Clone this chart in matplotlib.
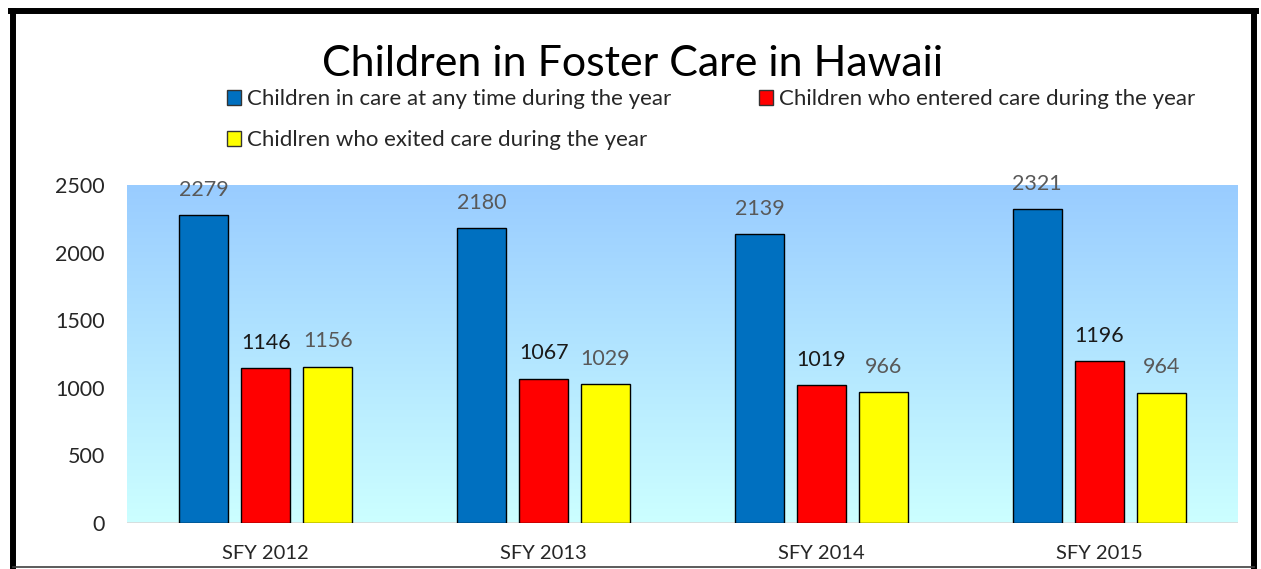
import matplotlib
matplotlib.use("Agg")
import matplotlib.pyplot as plt
import numpy as np
from matplotlib.patches import Patch
from matplotlib.lines import Line2D
from matplotlib.colors import LinearSegmentedColormap

categories = ["SFY 2012", "SFY 2013", "SFY 2014", "SFY 2015"]
in_care = [2279, 2180, 2139, 2321]
entered = [1146, 1067, 1019, 1196]
exited = [1156, 1029, 966, 964]
series_names = ["Children in care at any time during the year",
                "Children who entered care during the year",
                "Chidlren who exited care during the year"]
title = "Children in Foster Care in Hawaii"
yticks = [0, 500, 1000, 1500, 2000, 2500]

plt.rcParams['font.family'] = ['Lato', 'DejaVu Sans']

W, H = 1261, 569
fig = plt.figure(figsize=(W / 100, H / 100), dpi=100)
ax = fig.add_axes([127 / W, 1 - 523 / H, (1238 - 127) / W, (523 - 185) / H])

# gradient background
cmap = LinearSegmentedColormap.from_list("bg", ["#CCFFFF", "#99CCFF"])
grad = np.linspace(0, 1, 256).reshape(-1, 1)
ax.imshow(grad, aspect="auto", cmap=cmap, origin="lower",
          extent=[-0.5, 3.5, 0, 2500], zorder=0)

x = np.arange(len(categories))
bw = 0.176
off = 0.223
colors = ["#0070C0", "#FF0000", "#FFFF00"]
label_colors = ["#595959", "#1a1a1a", "#595959"]
for i, (vals, c, lc) in enumerate(zip([in_care, entered, exited], colors, label_colors)):
    bars = ax.bar(x + (i - 1) * off, vals, width=bw, color=c, edgecolor="black",
                  linewidth=1.0, zorder=2)
    for b, v in zip(bars, vals):
        ax.annotate(str(v), (b.get_x() + b.get_width() / 2, v), xytext=(0, 11),
                    textcoords="offset points", ha="center", va="bottom",
                    fontsize=15.5, color=lc, zorder=3)

ax.set_xlim(-0.5, 3.5)
ax.set_ylim(0, 2500)
ax.set_yticks(yticks)
ax.set_xticks(x)
ax.set_xticklabels(categories)
ax.tick_params(axis="both", length=0, colors="#262626")
ax.tick_params(axis="y", pad=16, labelsize=15.5)
ax.tick_params(axis="x", pad=16, labelsize=14.5)
for s in ax.spines.values():
    s.set_visible(False)
ax.axhline(0, color="#D9D9D9", linewidth=1.2, zorder=1)

fig.text(633 / W, 1 - 64 / H, title, ha="center", va="center", fontsize=31, color="black")

handles = [Patch(facecolor=colors[0], edgecolor="#333333"),
           Patch(facecolor=colors[2], edgecolor="#333333"),
           Patch(facecolor=colors[1], edgecolor="#333333")]
labels = [series_names[0], series_names[2], series_names[1]]
leg = fig.legend(handles, labels, ncol=2, loc="upper left",
                 bbox_to_anchor=(227 / W, 1 - 89 / H), frameon=False,
                 fontsize=16, handlelength=0.65, handleheight=0.65,
                 handletextpad=0.25, columnspacing=3.95, labelspacing=0.95,
                 borderaxespad=0, borderpad=0)
for t in leg.get_texts():
    t.set_color("#262626")

# outer frame
fig.add_artist(Line2D([13 / W, 13 / W], [0, 1 - 11 / H], transform=fig.transFigure, color="black", lw=4.3))
fig.add_artist(Line2D([11 / W, 1256 / W], [1 - 11 / H, 1 - 11 / H], transform=fig.transFigure, color="black", lw=4.3))
fig.add_artist(Line2D([1254 / W, 1254 / W], [0, 1 - 11 / H], transform=fig.transFigure, color="black", lw=4.3))
fig.add_artist(Line2D([13 / W, 1254 / W], [1 - 567 / H, 1 - 567 / H], transform=fig.transFigure, color="#404040", lw=1.2))

fig.savefig("out.png", dpi=100)
